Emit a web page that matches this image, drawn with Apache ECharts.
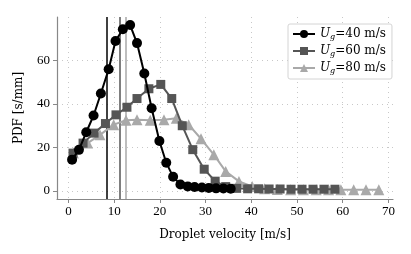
<!DOCTYPE html>
<html><head><meta charset="utf-8">
<script src="https://cdn.jsdelivr.net/npm/echarts@6/dist/echarts.min.js"></script>
<style>html,body{margin:0;padding:0;background:#fff}#c{width:411px;height:254px}</style>
</head><body><div id="c"></div>
<script>
const xTicks = [0, 10, 20, 30, 40, 50, 60, 70];
const yTicks = [0, 20, 40, 60];
const seriesNames = ['40', '60', '80'];
const ug40 = [[0.8,14.4],[2.3,18.9],[3.9,27],[5.5,34.7],[7.1,44.8],[8.8,56],[10.3,69],[11.9,74.4],[13.5,76.3],[15.0,68],[16.6,54],[18.2,38],[19.9,23],[21.4,13],[22.9,6.5],[24.5,3],[26.1,2.1],[27.6,1.8],[29.2,1.6],[30.7,1.4],[32.3,1.2],[33.9,1.1],[35.5,1.0]];
const ug60 = [[1.0,17.4],[3.2,22],[5.6,26.6],[8.1,31],[10.4,35],[12.8,38.5],[15.0,42.5],[17.6,47],[20.2,49],[22.6,42.5],[24.9,30],[27.2,19],[29.7,10],[32.1,4.5],[34.4,2],[36.8,1.2],[39.2,1],[41.6,1],[43.9,0.9],[46.3,0.9],[48.7,0.8],[51.1,0.8],[53.5,0.8],[55.9,0.8],[58.3,0.8]];
const ug80 = [[1.1,17.5],[4.2,22],[6.9,25.8],[9.9,30.5],[12.6,32.5],[15.0,32.7],[17.9,32.5],[20.9,32.7],[23.6,33.4],[26.3,30.5],[29.0,24],[31.8,16.7],[34.4,9],[37.3,4.4],[40.2,2.1],[42.9,1],[45.7,0.7],[48.6,0.6],[51.4,0.6],[54.2,0.6],[56.9,0.6],[59.6,0.6],[62.4,0.6],[65.1,0.6],[67.9,0.6]];
const meanLines = [8.45, 11.2, 12.5];

const C = ['#000000', '#555555', '#a9a9a9'];
const serif = '"DejaVu Serif", "Liberation Serif", serif';
const tickFont = '"Liberation Serif", "DejaVu Serif", serif';
const chart = echarts.init(document.getElementById('c'), null, {renderer: 'canvas'});
const rich = {
  i: {fontFamily: serif, fontStyle: 'italic', fontSize: 12, color: '#000'},
  s: {fontFamily: serif, fontStyle: 'italic', fontSize: 8, color: '#000', verticalAlign: 'bottom', padding: [6, 0, 0, 0]},
  t: {fontFamily: serif, fontSize: 12, color: '#000'}
};
function mk(name, data, color, symbol, size, idx) {
  return {
    name: name, type: 'line', data: data, symbol: symbol, symbolSize: size,
    lineStyle: {color: color, width: 2}, itemStyle: {color: color},
    z: 10 - idx, animation: false,
    markLine: {
      silent: true, symbol: 'none', label: {show: false},
      lineStyle: {color: color, width: 1.5, type: 'solid'},
      data: [{xAxis: meanLines[idx]}], animation: false
    }
  };
}
chart.setOption({
  animation: false,
  grid: {left: 57, right: 18, top: 17, bottom: 55},
  legend: {
    left: 288, top: 24, orient: 'vertical', itemWidth: 22, itemHeight: 10, itemGap: 4,
    padding: [4, 6, 4, 4], borderColor: '#d4d4d4', borderWidth: 1, borderRadius: 2, backgroundColor: '#fff',
    formatter: n => '{i|U}{s|g}{t|=' + n + ' m/s}',
    textStyle: {rich: rich}
  },
  xAxis: {
    type: 'value', min: -2.5, max: 71,
    name: 'Droplet velocity [m/s]', nameLocation: 'middle', nameGap: 30,
    nameTextStyle: {fontFamily: serif, fontSize: 12, color: '#000'},
    axisLine: {onZero: false, lineStyle: {color: '#888', width: 1.2}},
    axisTick: {show: true, length: 4, inside: false, customValues: xTicks, lineStyle: {color: '#888'}},
    axisLabel: {customValues: xTicks, fontFamily: tickFont, fontSize: 13, color: '#000', margin: 6},
    splitLine: {show: true, lineStyle: {color: '#c8c8c8', type: [1, 4], width: 1}}
  },
  yAxis: {
    type: 'value', min: -3.7, max: 80,
    name: 'PDF [s/mm]', nameLocation: 'middle', nameGap: 32,
    nameTextStyle: {fontFamily: serif, fontSize: 12, color: '#000'},
    axisLine: {show: true, onZero: false, lineStyle: {color: '#888', width: 1.2}},
    axisTick: {show: true, length: 4, inside: false, customValues: yTicks, lineStyle: {color: '#888'}},
    axisLabel: {customValues: yTicks, fontFamily: tickFont, fontSize: 13, color: '#000', margin: 7},
    splitLine: {show: true, lineStyle: {color: '#c8c8c8', type: [1, 4], width: 1}}
  },
  series: [
    mk(seriesNames[0], ug40, C[0], 'circle', 10, 0),
    mk(seriesNames[1], ug60, C[1], 'rect', 9, 1),
    mk(seriesNames[2], ug80, C[2], 'triangle', 11, 2)
  ]
});
</script></body></html>
